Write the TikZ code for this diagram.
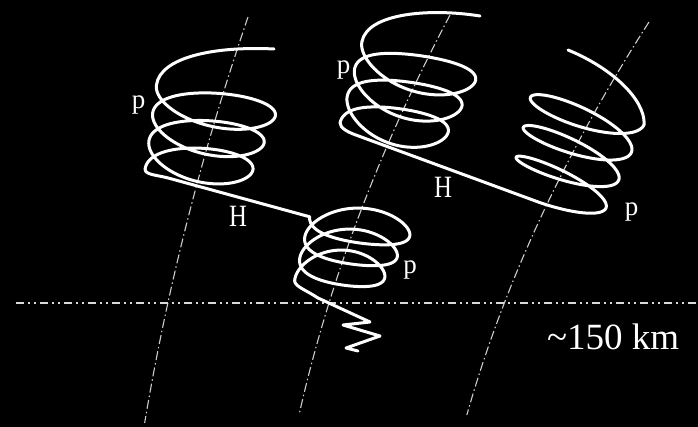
\documentclass[tikz,border=0pt]{standalone}
\usepackage{fontspec}
\setmainfont{Liberation Serif}
\tikzset{
  % projected helix: centre (hxc,hyc), half axes hra/hrb, bulge hre, tilt hth
  helixfns/.style={declare function={
    hxp(\t)=hxc(\t)-hra(\t)*cos(\t)*cos(hth(\t))-(hrb(\t)*sin(\t)-hre(\t)*sin(\t)*sin(\t))*sin(hth(\t));
    hyp(\t)=hyc(\t)-hra(\t)*cos(\t)*sin(hth(\t))+(hrb(\t)*sin(\t)-hre(\t)*sin(\t)*sin(\t))*cos(hth(\t));
  }},
  orbit/.style={draw=white, line width=3pt, line cap=round, line join=round},
  fieldline/.style={draw=white!80!black, line width=1.1pt, dash pattern=on 9pt off 3pt on 1.5pt off 3pt},
  horizon/.style={draw=white!85!black, line width=1.8pt, dash pattern=on 8pt off 4pt on 2pt off 4pt on 2pt off 4pt},
  lbl/.style={text=white, inner sep=0pt, font=\fontsize{27}{27}\selectfont},
  hlbl/.style={lbl, font=\fontsize{31}{31}\selectfont, xscale=0.8},
}
\begin{document}
\begin{tikzpicture}[x=1pt,y=-1pt]
\fill[black] (0,0) rectangle (698,427);
\useasboundingbox (0,0) rectangle (698,427);

% magnetic field lines
\draw[fieldline] plot[variable=\s, domain=17:423, samples=40] ({248-0.2958*(\s-17)+0.000218*(\s-17)*(\s-230)},\s);
\draw[fieldline] plot[variable=\s, domain=15:415, samples=40] ({450-0.4595*(\s-15)+0.000381*(\s-15)*(\s-200)},\s);
\draw[fieldline] plot[variable=\s, domain=22:415, samples=40] ({649-0.540*(\s-22)+0.00046*(\s-22)*(\s-248)},\s);

% 150 km level
\coordinate (hL) at (16,303);
\coordinate (hR) at (698,303);
\draw[horizon] (hL) -- (hR);

% left upper spiral
\begin{scope}[declare function={
  hyc(\t)=93.4+27.5*((\t-360)/360);
  hxc(\t)=215-7.5*((\t-540)/360);
  hra(\t)=61-3.75*((\t-540)/360);
  hrb(\t)=23.85; hre(\t)=-2.85; hth(\t)=7.5;}, helixfns]
  \coordinate (A0) at ({hxp(360)},{hyp(360)});
  \coordinate (A1) at ({hxp(1440)},{hyp(1440)});
  \draw[orbit] plot[variable=\t, domain=360:1440, samples=241] ({hxp(\t)},{hyp(\t)});
\end{scope}

% lower spiral
\begin{scope}[declare function={
  hyc(\t)=220.5+21*(\t/360);
  hxc(\t)=358.5-8.75*((\t-180)/360);
  hra(\t)=51.5-3.75*((\t-180)/360);
  hrb(\t)=22.75; hre(\t)=5.5; hth(\t)=4;}, helixfns]
  \coordinate (C0) at ({hxp(0)},{hyp(0)});
  \coordinate (C1) at ({hxp(1080)},{hyp(1080)});
  \draw[orbit] plot[variable=\t, domain=0:1080, samples=241] ({hxp(\t)},{hyp(\t)});
\end{scope}

% middle upper spiral
\begin{scope}[declare function={
  hyc(\t)=54.15+26.5*((\t-360)/360);
  hxc(\t)=417-10.5*((\t-540)/360);
  hra(\t)=60-3.25*((\t-540)/360);
  hrb(\t)=25; hre(\t)=-6; hth(\t)=12;}, helixfns]
  \coordinate (B0) at ({hxp(360)},{hyp(360)});
  \coordinate (B1) at ({hxp(1440)},{hyp(1440)});
  \draw[orbit] plot[variable=\t, domain=360:1440, samples=241] ({hxp(\t)},{hyp(\t)});
\end{scope}

% right spiral
\begin{scope}[declare function={
  hxc(\t)=559.3+9.92*((\t-180)/360);
  hyc(\t)=190.1-28.92*((\t-180)/360);
  hra(\t)=50+3*((\t-180)/360);
  hrb(\t)=10+8*((\t-73)/1187); hre(\t)=0; hth(\t)=21;}, helixfns]
  \coordinate (D0) at ({hxp(73)},{hyp(73)});
  \coordinate (D1) at ({hxp(1260)},{hyp(1260)});
  \draw[orbit] plot[variable=\t, domain=73:1260, samples=261] ({hxp(\t)},{hyp(\t)});
\end{scope}

% free ends and drift paths
\coordinate (Atop) at (274,49);
\coordinate (Btop) at (480,16);
\coordinate (Dtop) at (568,50);
\coordinate (Z0) at (370,322);
\coordinate (Z1) at (343,325);
\coordinate (Z2) at (380,336);
\coordinate (Z3) at (346,348);
\coordinate (Z4) at (358,351);

\draw[orbit] (Atop) .. controls (215,46) and (160,57) .. (A0);
\draw[orbit] (A1) .. controls +(0,6) and (158,175) .. (170,178.5) -- (C0);
\draw[orbit] (C1) .. controls +(0,6) and (306,290) .. (318,298) -- (Z0) -- (Z1) -- (Z2) -- (Z3) -- (Z4);
\draw[orbit] (Btop) .. controls (430,8) and (368,13) .. (B0);
\draw[orbit] (B1) .. controls +(0,5.3) and (348,132.3) .. (358,135.8) -- (D0);
\draw[orbit] (D1) .. controls +(1,-25) and (612,68) .. (Dtop);

% labels
\node[lbl] (pA) at (138.5,105) {p};
\node[lbl] (pB) at (343.5,70) {p};
\node[lbl] (pC) at (410,270) {p};
\node[lbl] (pD) at (631.5,212.5) {p};
\node[hlbl] (hA) at (238,216) {H};
\node[hlbl] (hB) at (443,187.5) {H};
\node[text=white, inner sep=0pt, anchor=base west, font=\fontsize{37}{37}\selectfont] (alt) at (547,349) {\textasciitilde 150 km};
\end{tikzpicture}
\end{document}
